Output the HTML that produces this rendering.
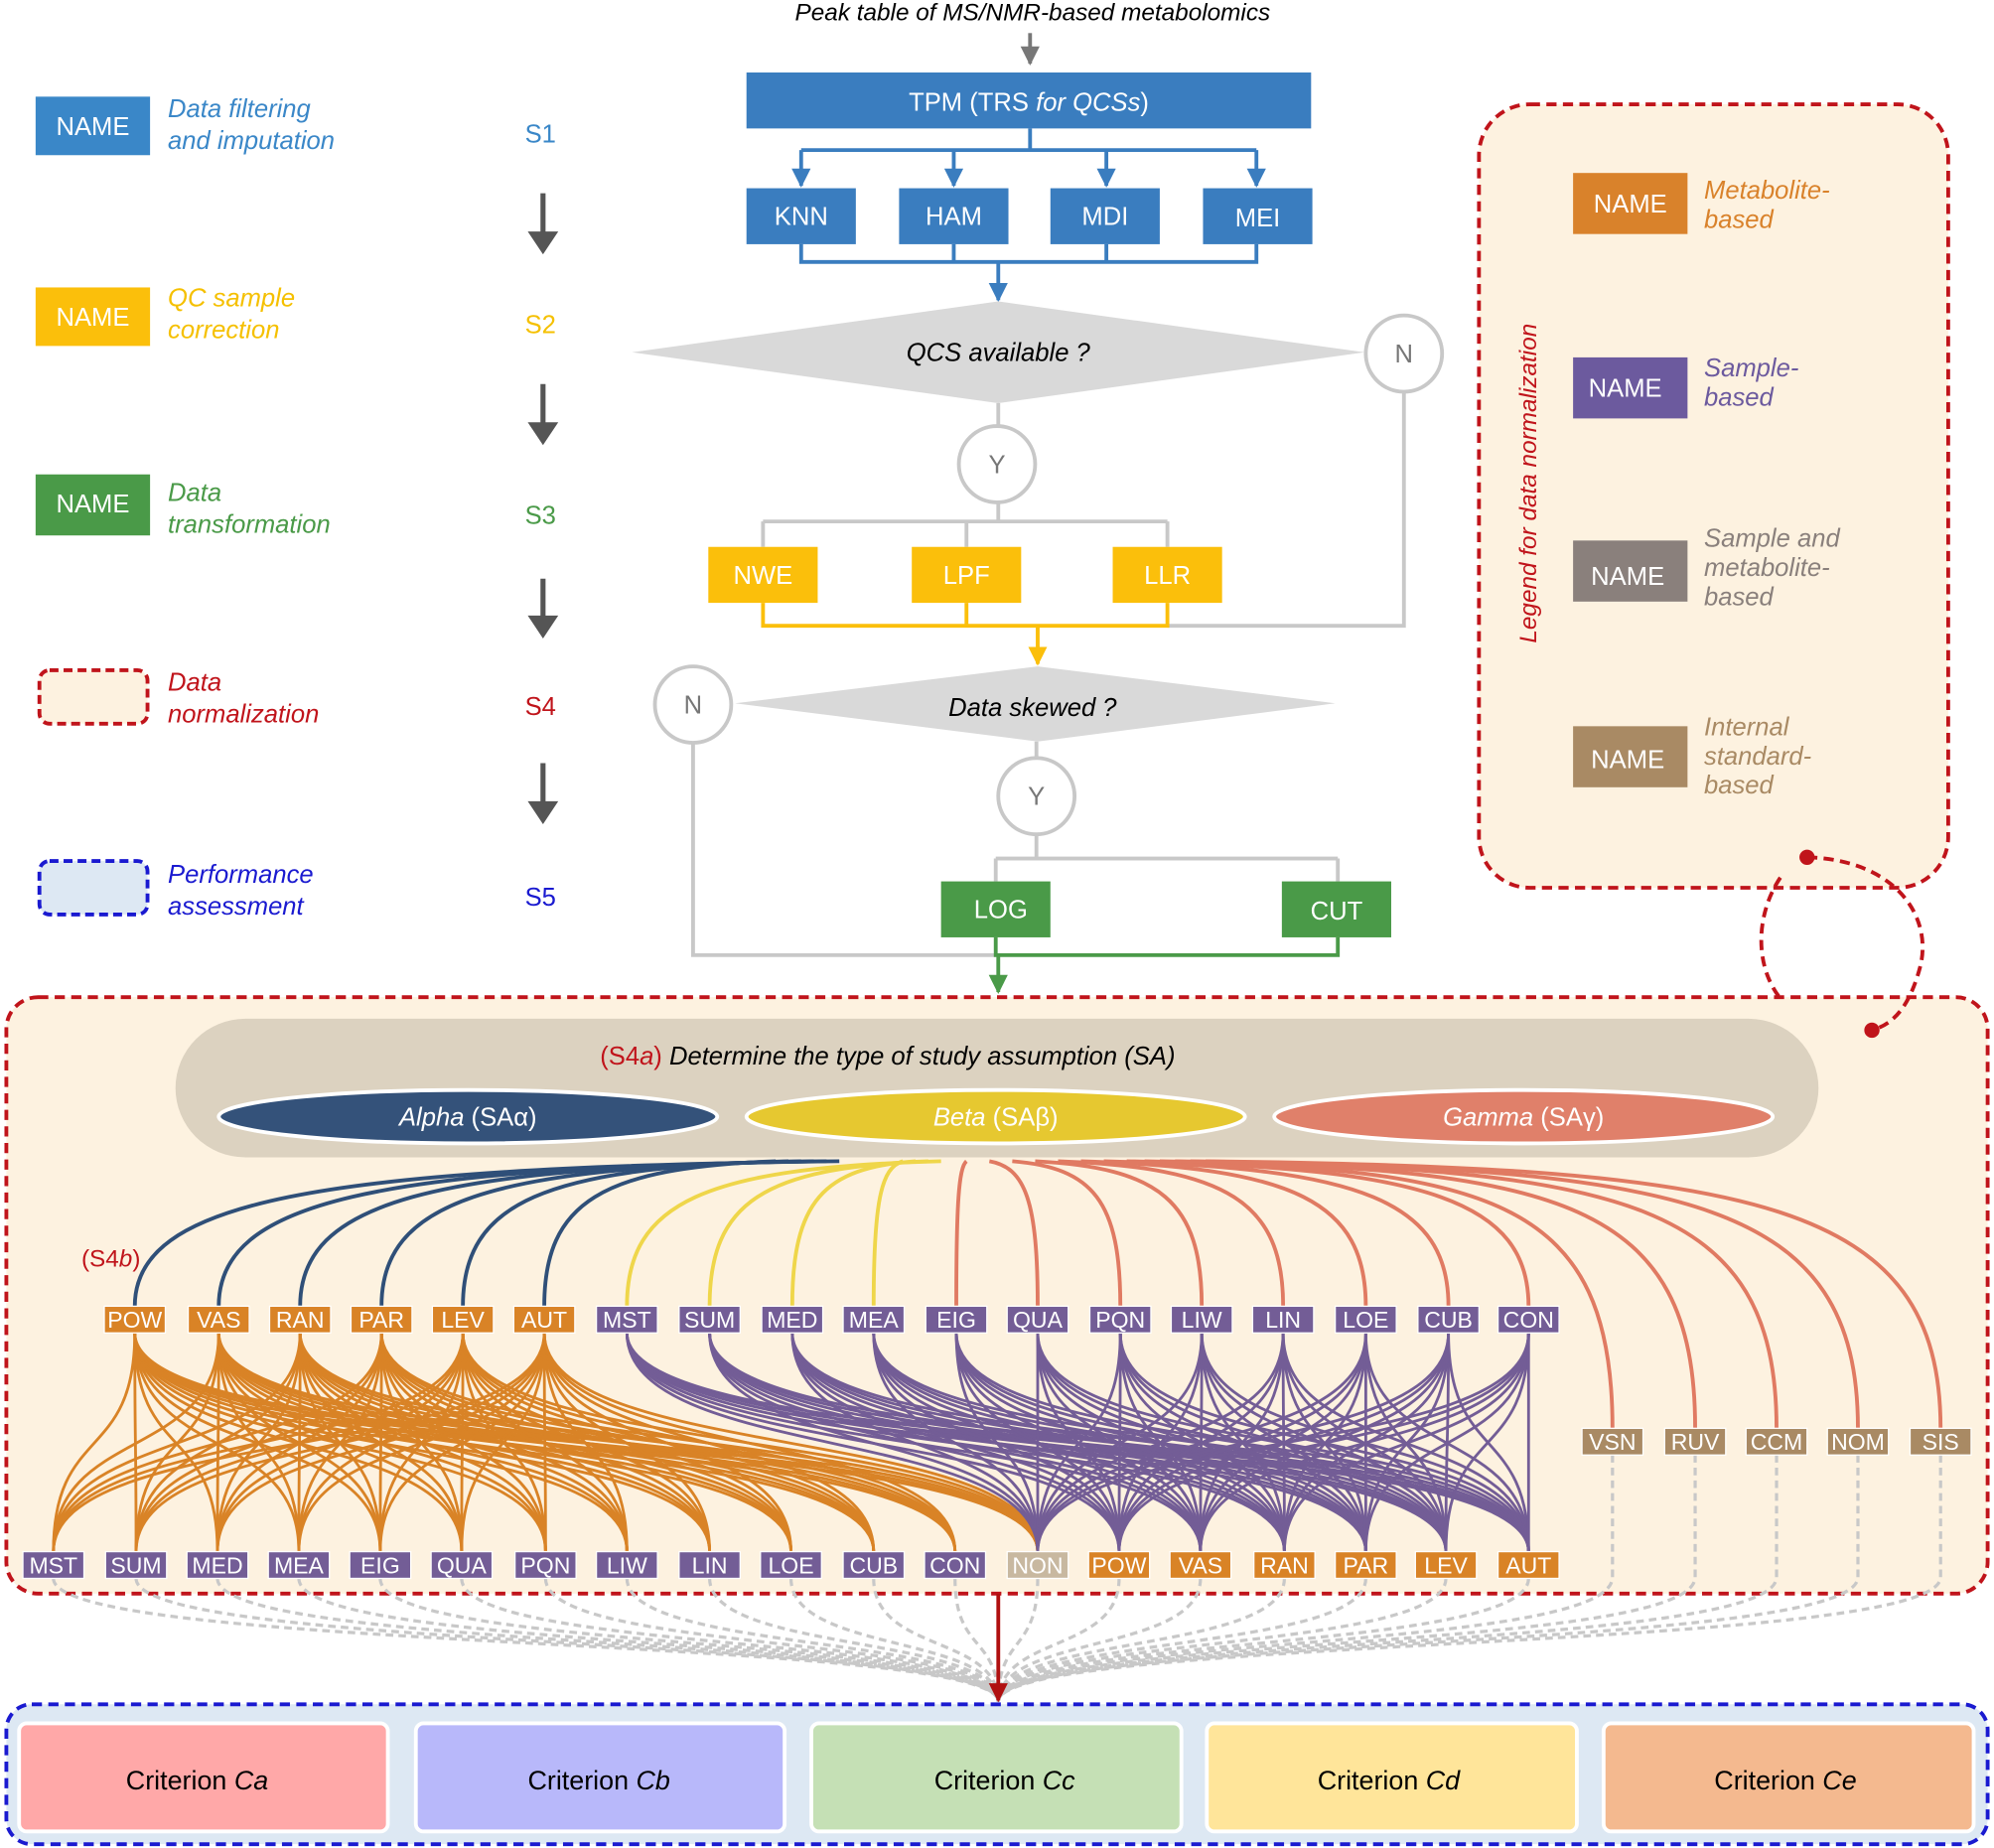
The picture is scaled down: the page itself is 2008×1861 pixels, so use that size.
<!DOCTYPE html>
<html><head><meta charset="utf-8"><style>
html,body{margin:0;padding:0;background:#fff}
svg{display:block;font-family:"Liberation Sans",Arial,sans-serif}
</style></head><body>
<svg id="s" width="2008" height="1861" viewBox="0 0 1568 1453" preserveAspectRatio="none" xmlns="http://www.w3.org/2000/svg">
<defs>
<marker id="ab" viewBox="0 0 10 10" refX="9" refY="5" markerWidth="5" markerHeight="5" orient="auto"><path d="M0,0L10,5L0,10z" fill="#3a7dbf"/></marker>
<marker id="ag" viewBox="0 0 10 10" refX="9" refY="5" markerWidth="5" markerHeight="5" orient="auto"><path d="M0,0L10,5L0,10z" fill="#777"/></marker>
<marker id="ay" viewBox="0 0 10 10" refX="9" refY="5" markerWidth="5" markerHeight="5" orient="auto"><path d="M0,0L10,5L0,10z" fill="#fbbf0b"/></marker>
<marker id="agr" viewBox="0 0 10 10" refX="9" refY="5" markerWidth="5" markerHeight="5" orient="auto"><path d="M0,0L10,5L0,10z" fill="#4a9a48"/></marker>
<marker id="ar" viewBox="0 0 10 10" refX="9" refY="5" markerWidth="5" markerHeight="5" orient="auto"><path d="M0,0L10,5L0,10z" fill="#b01010"/></marker>
</defs>

<!-- left legend -->
<g font-size="20">
<rect x="28" y="76" width="90" height="46" fill="#3a87c8"/><text x="73" y="106" fill="#fff" text-anchor="middle">NAME</text>
<text x="132" y="92" fill="#3a87c8" font-style="italic">Data filtering</text><text x="132" y="117" fill="#3a87c8" font-style="italic">and imputation</text>
<text x="425" y="112" fill="#3a87c8" text-anchor="middle">S1</text>
<rect x="28" y="226" width="90" height="46" fill="#fbbf0b"/><text x="73" y="256" fill="#fff" text-anchor="middle">NAME</text>
<text x="132" y="241" fill="#f5c000" font-style="italic">QC sample</text><text x="132" y="266" fill="#f5c000" font-style="italic">correction</text>
<text x="425" y="262" fill="#f5c000" text-anchor="middle">S2</text>
<rect x="28" y="373" width="90" height="48" fill="#4a9a48"/><text x="73" y="403" fill="#fff" text-anchor="middle">NAME</text>
<text x="132" y="394" fill="#4a9a48" font-style="italic">Data</text><text x="132" y="419" fill="#4a9a48" font-style="italic">transformation</text>
<text x="425" y="412" fill="#4a9a48" text-anchor="middle">S3</text>
<rect x="31" y="527" width="85" height="42" rx="8" fill="#fdf2e0" stroke="#c0141b" stroke-width="3" stroke-dasharray="7,4"/>
<text x="132" y="543" fill="#c0141b" font-style="italic">Data</text><text x="132" y="568" fill="#c0141b" font-style="italic">normalization</text>
<text x="425" y="562" fill="#c0141b" text-anchor="middle">S4</text>
<rect x="31" y="677" width="85" height="42" rx="8" fill="#dde8f3" stroke="#1a1ad0" stroke-width="3" stroke-dasharray="7,4"/>
<text x="132" y="694" fill="#1a1ad0" font-style="italic">Performance</text><text x="132" y="719" fill="#1a1ad0" font-style="italic">assessment</text>
<text x="425" y="712" fill="#1a1ad0" text-anchor="middle">S5</text>
</g>
<g stroke="#555" stroke-width="4" fill="#555">
<line x1="427" y1="152" x2="427" y2="188"/><path d="M415,182L427,200L439,182z" stroke="none"/>
<line x1="427" y1="302" x2="427" y2="338"/><path d="M415,332L427,350L439,332z" stroke="none"/>
<line x1="427" y1="455" x2="427" y2="490"/><path d="M415,484L427,502L439,484z" stroke="none"/>
<line x1="427" y1="600" x2="427" y2="636"/><path d="M415,630L427,648L439,630z" stroke="none"/>
</g>

<!-- flowchart -->
<text x="812" y="16" text-anchor="middle" font-size="19" font-style="italic">Peak table of MS/NMR-based metabolomics</text>
<line x1="810" y1="26" x2="810" y2="50" stroke="#777" stroke-width="3" marker-end="url(#ag)"/>
<rect x="587" y="57" width="444" height="44" fill="#3a7dbf"/>
<text x="809" y="87" text-anchor="middle" font-size="20" fill="#fff">TPM (TRS <tspan font-style="italic">for QCSs</tspan>)</text>
<g stroke="#3a7dbf" stroke-width="3" fill="none">
<path d="M810,101V118M630,118H988"/>
<line x1="630" y1="118" x2="630" y2="146" marker-end="url(#ab)"/>
<line x1="750" y1="118" x2="750" y2="146" marker-end="url(#ab)"/>
<line x1="870" y1="118" x2="870" y2="146" marker-end="url(#ab)"/>
<line x1="988" y1="118" x2="988" y2="146" marker-end="url(#ab)"/>
<path d="M630,192V206H988V192M750,192V206M870,192V206"/>
<line x1="785" y1="206" x2="785" y2="236" marker-end="url(#ab)"/>
</g>
<g font-size="20" fill="#fff" text-anchor="middle">
<rect x="587" y="148" width="86" height="44" fill="#3a7dbf"/><text x="630" y="177">KNN</text>
<rect x="707" y="148" width="86" height="44" fill="#3a7dbf"/><text x="750" y="177">HAM</text>
<rect x="826" y="148" width="86" height="44" fill="#3a7dbf"/><text x="869" y="177">MDI</text>
<rect x="946" y="148" width="86" height="44" fill="#3a7dbf"/><text x="989" y="178">MEI</text>
</g>
<polygon points="497,277 785,237 1073,277 785,317" fill="#d9d9d9"/>
<text x="785" y="284" text-anchor="middle" font-size="20" font-style="italic">QCS available ?</text>
<g stroke="#c8c8c8" stroke-width="3" fill="none">
<path d="M785,317V335M785,395V410M600,410H918M600,410V430M760,410V430M918,410V430"/>
<path d="M1104,308V492H918"/>
<path d="M815,583V596M815,656V675M783,675H1052M783,675V693M1052,675V693"/>
<path d="M545,584V751H783"/>
</g>
<g fill="#fff" stroke="#c8c8c8" stroke-width="3">
<circle cx="1104" cy="278" r="30"/><circle cx="784" cy="365" r="30"/>
<circle cx="545" cy="554" r="30"/><circle cx="815" cy="626" r="30"/>
</g>
<g font-size="20" fill="#777" text-anchor="middle">
<text x="1104" y="285">N</text><text x="784" y="372">Y</text><text x="545" y="561">N</text><text x="815" y="633">Y</text>
</g>
<g stroke="#fbbf0b" stroke-width="3" fill="none">
<path d="M600,474V492H918V474M760,474V492"/>
<line x1="816" y1="492" x2="816" y2="522" marker-end="url(#ay)"/>
</g>
<g font-size="20" fill="#fff" text-anchor="middle">
<rect x="557" y="430" width="86" height="44" fill="#fbbf0b"/><text x="600" y="459">NWE</text>
<rect x="717" y="430" width="86" height="44" fill="#fbbf0b"/><text x="760" y="459">LPF</text>
<rect x="875" y="430" width="86" height="44" fill="#fbbf0b"/><text x="918" y="459">LLR</text>
</g>
<polygon points="578,553 816,524 1050,553 816,583" fill="#d9d9d9"/>
<text x="812" y="563" text-anchor="middle" font-size="20" font-style="italic">Data skewed ?</text>
<g stroke="#4a9a48" stroke-width="3" fill="none">
<path d="M783,737V751H1052V737"/>
<line x1="785" y1="751" x2="785" y2="780" marker-end="url(#agr)"/>
</g>
<g font-size="20" fill="#fff" text-anchor="middle">
<rect x="740" y="693" width="86" height="44" fill="#4a9a48"/><text x="787" y="722">LOG</text>
<rect x="1008" y="693" width="86" height="44" fill="#4a9a48"/><text x="1051" y="723">CUT</text>
</g>

<!-- right legend -->
<rect x="1163" y="82" width="369" height="616" rx="40" fill="#fdf2e0" stroke="#c0141b" stroke-width="3" stroke-dasharray="8,5"/>
<text transform="translate(1208,380) rotate(-90)" text-anchor="middle" font-size="19" font-style="italic" fill="#c0141b">Legend for data normalization</text>
<g font-size="20">
<rect x="1237" y="136" width="90" height="48" fill="#d9822b"/><text x="1282" y="167" fill="#fff" text-anchor="middle">NAME</text>
<text x="1340" y="156" fill="#d9822b" font-style="italic">Metabolite-</text><text x="1340" y="179" fill="#d9822b" font-style="italic">based</text>
<rect x="1237" y="281" width="90" height="48" fill="#6c5a9e"/><text x="1278" y="312" fill="#fff" text-anchor="middle">NAME</text>
<text x="1340" y="296" fill="#6c5a9e" font-style="italic">Sample-</text><text x="1340" y="319" fill="#6c5a9e" font-style="italic">based</text>
<rect x="1237" y="425" width="90" height="48" fill="#8a807c"/><text x="1280" y="460" fill="#fff" text-anchor="middle">NAME</text>
<text x="1340" y="430" fill="#8a807c" font-style="italic">Sample and</text><text x="1340" y="453" fill="#8a807c" font-style="italic">metabolite-</text><text x="1340" y="476" fill="#8a807c" font-style="italic">based</text>
<rect x="1237" y="571" width="90" height="48" fill="#a98a64"/><text x="1280" y="604" fill="#fff" text-anchor="middle">NAME</text>
<text x="1340" y="578" fill="#a98a64" font-style="italic">Internal</text><text x="1340" y="601" fill="#a98a64" font-style="italic">standard-</text><text x="1340" y="624" fill="#a98a64" font-style="italic">based</text>
</g>

<!-- big normalization box -->
<rect x="5" y="784" width="1558" height="469" rx="25" fill="#fdf2e0" stroke="#c0141b" stroke-width="3" stroke-dasharray="8,5"/>
<g stroke="#c0141b" stroke-width="3" fill="none" stroke-dasharray="8,5">
<path d="M1421,674C1490,676 1520,720 1510,760C1502,790 1490,805 1472,810"/>
<path d="M1400,690C1380,720 1380,760 1400,785"/>
</g>
<circle cx="1421" cy="674" r="6" fill="#c0141b"/><circle cx="1472" cy="810" r="6" fill="#c0141b"/>
<rect x="138" y="801" width="1292" height="109" rx="55" fill="#dcd2c0"/>
<text x="698" y="837" text-anchor="middle" font-size="20" font-style="italic"><tspan fill="#c0141b" font-style="normal">(S4<tspan font-style="italic">a</tspan>)</tspan> Determine the type of study assumption (SA)</text>
<g stroke="#fff" stroke-width="3">
<ellipse cx="368" cy="878" rx="196" ry="21" fill="#34527a"/>
<ellipse cx="783" cy="878" rx="196" ry="21" fill="#e6c830"/>
<ellipse cx="1198" cy="878" rx="196" ry="21" fill="#e0806a"/>
</g>
<g font-size="20" fill="#fff" text-anchor="middle">
<text x="368" y="885"><tspan font-style="italic">Alpha</tspan> (SAα)</text>
<text x="783" y="885"><tspan font-style="italic">Beta</tspan> (SAβ)</text>
<text x="1198" y="885"><tspan font-style="italic">Gamma</tspan> (SAγ)</text>
</g>
<text x="64" y="996" font-size="19" fill="#c0141b">(S4<tspan font-style="italic">b</tspan>)</text>
<g id="gen"></g>

<!-- assessment box -->
<rect x="5" y="1340" width="1558" height="110" rx="20" fill="#dde8f3" stroke="#1a1ad0" stroke-width="3" stroke-dasharray="8,5"/>
<line x1="785" y1="1253" x2="785" y2="1337" stroke="#b01010" stroke-width="3" marker-end="url(#ar)"/>
<g stroke="#fff" stroke-width="3">
<rect x="15" y="1355" width="290" height="85" rx="6" fill="#ffa8a8"/>
<rect x="327" y="1355" width="290" height="85" rx="6" fill="#b8b8fa"/>
<rect x="638" y="1355" width="291" height="85" rx="6" fill="#c5e0b5"/>
<rect x="949" y="1355" width="291" height="85" rx="6" fill="#ffe59a"/>
<rect x="1261" y="1355" width="291" height="85" rx="6" fill="#f4b98f"/>
</g>
<g font-size="21" text-anchor="middle">
<text x="155" y="1407">Criterion <tspan font-style="italic">Ca</tspan></text>
<text x="471" y="1407">Criterion <tspan font-style="italic">Cb</tspan></text>
<text x="790" y="1407">Criterion <tspan font-style="italic">Cc</tspan></text>
<text x="1092" y="1407">Criterion <tspan font-style="italic">Cd</tspan></text>
<text x="1404" y="1407">Criterion <tspan font-style="italic">Ce</tspan></text>
</g>
</svg>
<script>
(function(){
var NS="http://www.w3.org/2000/svg",g=document.getElementById("gen");
function el(t,a,txt){var e=document.createElementNS(NS,t);for(var k in a)e.setAttribute(k,a[k]);if(txt)e.textContent=txt;g.appendChild(e);return e;}
var OR="#d98326",PU="#735d96",TAN="#a98a64",NONC="#c8b8a0";
var top=[["POW",106,OR],["VAS",172,OR],["RAN",236,OR],["PAR",300,OR],["LEV",364,OR],["AUT",428,OR],
["MST",493,PU],["SUM",558,PU],["MED",623,PU],["MEA",687,PU],["EIG",752,PU],["QUA",816,PU],["PQN",881,PU],["LIW",945,PU],["LIN",1009,PU],["LOE",1074,PU],["CUB",1139,PU],["CON",1202,PU]];
var bot=[["MST",42,PU],["SUM",107,PU],["MED",171,PU],["MEA",235,PU],["EIG",299,PU],["QUA",363,PU],["PQN",429,PU],["LIW",493,PU],["LIN",558,PU],["LOE",622,PU],["CUB",687,PU],["CON",751,PU],["NON",816,NONC],["POW",880,OR],["VAS",944,OR],["RAN",1010,OR],["PAR",1074,OR],["LEV",1137,OR],["AUT",1202,OR]];
var tan=[["VSN",1268],["RUV",1333],["CCM",1397],["NOM",1461],["SIS",1526]];
// dashed gray to assessment
bot.forEach(function(b){el("path",{d:"M"+b[1]+",1241C"+b[1]+",1300 785,1285 785,1338",fill:"none",stroke:"#c8c8c8","stroke-width":2.5,"stroke-dasharray":"6,4"});});
tan.forEach(function(b){el("path",{d:"M"+b[1]+",1144V1240C"+b[1]+",1300 785,1285 785,1338",fill:"none",stroke:"#c8c8c8","stroke-width":2.5,"stroke-dasharray":"6,4"});});
// SA curves
function sa(sx,x,y,c){el("path",{d:"M"+sx+",913C"+(x+(sx-x)*0.25)+",918 "+x+",945 "+x+","+y,fill:"none",stroke:c,"stroke-width":3});}
for(var i=0;i<6;i++)sa(660-i*10,top[i][1],1027,"#2f4f78");
for(i=6;i<10;i++)sa(740-(i-6)*10,top[i][1],1027,"#efd64a");
for(i=10;i<18;i++)sa(760+(i-10)*18,top[i][1],1027,"#e07a62");
for(i=0;i<5;i++)sa(900+i*12,tan[i][1],1123,"#e07a62");
// cross connections
var ob=bot.slice(0,13),pb=bot.slice(12);
top.forEach(function(t,i){
  var targets=i<6?ob:pb,c=i<6?OR:PU;
  targets.forEach(function(b){el("path",{d:"M"+t[1]+",1048C"+t[1]+",1150 "+b[1]+",1120 "+b[1]+",1220",fill:"none",stroke:c,"stroke-width":2.2});});
});
function box(n,cx,y,c){el("rect",{x:cx-24,y:y,width:48,height:21,fill:c,stroke:"#fff","stroke-width":1});el("text",{x:cx,y:y+17,"text-anchor":"middle","font-size":18,fill:"#fff"},n);}
top.forEach(function(t){box(t[0],t[1],1027,t[2]);});
bot.forEach(function(t){box(t[0],t[1],1220,t[2]);});
tan.forEach(function(t){box(t[0],t[1],1123,TAN);});
})();
</script>
</body></html>
